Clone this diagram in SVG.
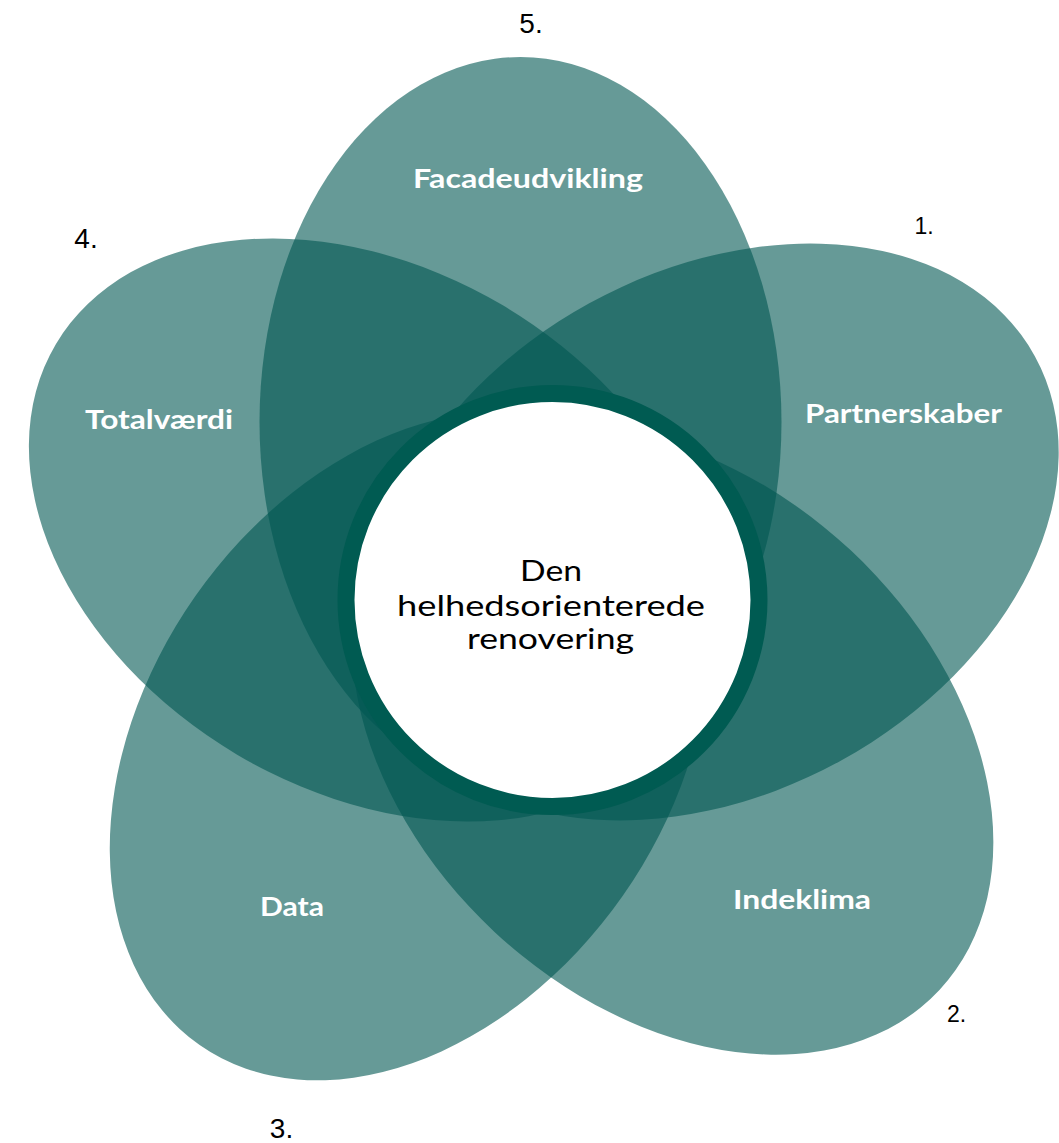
<svg xmlns="http://www.w3.org/2000/svg" width="1059" height="1143" viewBox="0 0 1059 1143">
<style>
.petal{fill:#005751;fill-opacity:0.6}
.lbl{font-family:Lato,"Open Sans","Liberation Sans",sans-serif;font-weight:700;font-size:27px;fill:#ffffff;text-anchor:middle}
.num{font-family:"Liberation Sans",Arial,sans-serif;font-size:28px;fill:#000000;text-anchor:middle}
.num.s{font-size:23px}
.ctr{font-family:Lato,"Open Sans","Liberation Sans",sans-serif;font-size:29px;fill:#000000;text-anchor:middle}
</style>
<rect width="1059" height="1143" fill="#ffffff"/>
<g id="petal-facadeudvikling">
<ellipse class="petal" cx="520.5" cy="422" rx="365" ry="261" transform="rotate(90 520.5 422)"/>
</g>
<g id="petal-partnerskaber">
<ellipse class="petal" cx="715" cy="532" rx="365" ry="261" transform="rotate(-28.8 715 532)"/>
</g>
<g id="petal-indeklima">
<ellipse class="petal" cx="672.5" cy="741" rx="365" ry="261" transform="rotate(43 672.5 741)"/>
</g>
<g id="petal-data">
<ellipse class="petal" cx="409" cy="746" rx="365" ry="261" transform="rotate(125 409 746)"/>
</g>
<g id="petal-totalvaerdi">
<ellipse class="petal" cx="370" cy="530" rx="365" ry="261" transform="rotate(30.6 370 530)"/>
</g>
<g id="labels">
<text class="lbl" x="528" y="188" textLength="230" lengthAdjust="spacingAndGlyphs">Facadeudvikling</text>
<text class="lbl" x="903.5" y="423" textLength="197" lengthAdjust="spacingAndGlyphs">Partnerskaber</text>
<text class="lbl" x="802" y="909" textLength="138" lengthAdjust="spacingAndGlyphs">Indeklima</text>
<text class="lbl" x="292" y="916" textLength="64" lengthAdjust="spacingAndGlyphs">Data</text>
<text class="lbl" x="159" y="429" textLength="148" lengthAdjust="spacingAndGlyphs">Totalværdi</text>
</g>
<g id="numbers">
<text class="num s" x="924" y="234">1.</text>
<text class="num s" x="956.5" y="1022">2.</text>
<text class="num" x="281.5" y="1138">3.</text>
<text class="num" x="86" y="248">4.</text>
<text class="num" x="531" y="33">5.</text>
</g>
<g id="center">
<circle cx="552.5" cy="600" r="206.5" fill="#ffffff" stroke="#005b52" stroke-width="17"/>
<text class="ctr" x="551" y="581" textLength="62" lengthAdjust="spacingAndGlyphs">Den</text>
<text class="ctr" x="551" y="616" textLength="308" lengthAdjust="spacingAndGlyphs">helhedsorienterede</text>
<text class="ctr" x="550.5" y="649" textLength="167" lengthAdjust="spacingAndGlyphs">renovering</text>
</g>
</svg>
